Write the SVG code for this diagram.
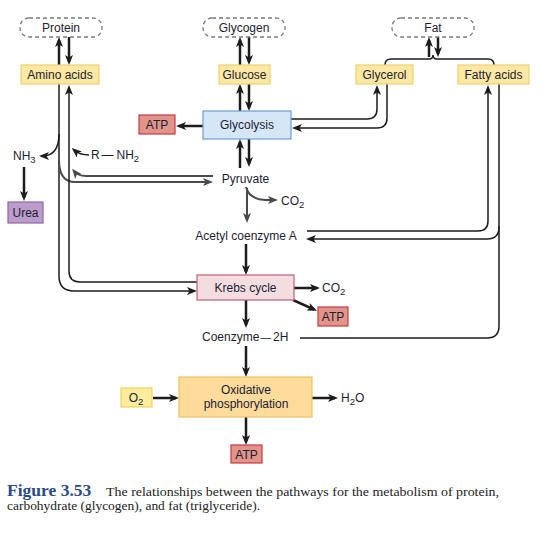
<svg xmlns="http://www.w3.org/2000/svg" width="551" height="538" viewBox="0 0 551 538">
<defs>
<marker id="ah" markerUnits="userSpaceOnUse" markerWidth="10" markerHeight="8" viewBox="0 0 10 8" refX="7" refY="4" orient="auto"><path d="M0,0 L10,4 L0,8 L2.5,4 Z" fill="#1c1c1c"/></marker>
<marker id="ag" markerUnits="userSpaceOnUse" markerWidth="10" markerHeight="8" viewBox="0 0 10 8" refX="7" refY="4" orient="auto"><path d="M0,0 L10,4 L0,8 L2.5,4 Z" fill="#4a4a4a"/></marker>
</defs>
<style>
text{font-family:"Liberation Sans",Arial,sans-serif;font-size:12px;fill:#1d1d33}
.sub{font-size:9.5px}
.c{text-anchor:middle}
.dash{fill:#fff;stroke:#7a7a7a;stroke-width:1.3;stroke-dasharray:4 3}
.yel{fill:#fbe8a2;stroke:#efd070;stroke-width:1.2}
.atp{fill:#e0948a;stroke:#c63a42;stroke-width:1.2}
.gly{fill:#d5e7f7;stroke:#6b9ed3;stroke-width:1.2}
.kreb{fill:#f3dde0;stroke:#c0607a;stroke-width:1.2}
.urea{fill:#bb9ccb;stroke:#8e67a6;stroke-width:1.2}
.ox{fill:#fcdb9b;stroke:#f0c15e;stroke-width:1.2}
.o2{fill:#fcec9e;stroke:#f0d45a;stroke-width:1.2}
.k{fill:none;stroke:#1c1c1c;stroke-width:2.5}
.t{fill:none;stroke:#1c1c1c;stroke-width:1.5}
.g{fill:none;stroke:#4a4a4a;stroke-width:2}
.k.a,.t.a{marker-end:url(#ah)}
.g.a{marker-end:url(#ag)}
text.fig{font-family:"Liberation Serif","Times New Roman",serif;font-size:17.5px;font-weight:bold;fill:#2c4b86}
text.capt{font-family:"Liberation Serif","Times New Roman",serif;font-size:12.5px;fill:#222}
</style>

<g id="connectors">
<path class="k a" d="M59,65 V40"/>
<path class="k a" d="M69,37 V62"/>
<path class="k a" d="M240,65 V40"/>
<path class="k a" d="M249,37 V62"/>
<path class="k a" d="M240,111 V87"/>
<path class="k a" d="M249,84 V108"/>
<path class="k a" d="M240,168 V142"/>
<path class="k a" d="M249,139 V164"/>
<path class="k a" d="M203,126 H179"/>
<path class="k a" d="M429,57 V40"/>
<path class="k a" d="M438,37 V54"/>
<path class="t" d="M385,65 Q385,59 391,59 H429 Q433,59 433,55 Q433,59 437,59 H488 Q494,59 494,65"/>
<path class="t a" d="M291,119 H367 Q377,119 377,109 V88"/>
<path class="t a" d="M387,84 V118 Q387,128 377,128 H295"/>
<path class="t a" d="M307,231 H478 Q488,231 488,221 V88"/>
<path class="t a" d="M499,84 V227 Q499,239 487,239 H309"/>
<path class="t" d="M300,338 H487 Q499,338 499,326 V226"/>
<path class="g a" d="M246,187 Q249,199 265,200 H275"/>
<path class="g a" d="M247,188 V220"/>
<path class="k a" d="M246,244 V272"/>
<path class="k a" d="M294,288 H317"/>
<path class="k a" d="M293,300 L314.3,309.6"/>
<path class="k a" d="M246,300 V325"/>
<path class="k a" d="M246,346 V374"/>
<path class="k a" d="M153,398 H176"/>
<path class="k a" d="M312,398 H335"/>
<path class="k a" d="M246,417 V442"/>
<path class="k a" d="M24,167 V198"/>
<path class="t a" d="M59,84 V276 Q59,291 74,291 H194"/>
<path class="t a" d="M59,134 Q59,156 42,156"/>
<path class="g a" d="M59,160 Q59,182 75,182 H210"/>
<path class="t a" d="M197,282 H80 Q69,282 69,271 V88"/>
<path class="g a" d="M213,176 H86 Q78,176 74,171"/>
<path class="t a" d="M89,155 Q80,155 74,150"/>
</g>

<g id="protein"><rect class="dash" x="20" y="18" width="82" height="19" rx="9"/><text class="c" x="61" y="32">Protein</text></g>
<g id="glycogen"><rect class="dash" x="203" y="18" width="82" height="19" rx="9"/><text class="c" x="244" y="32">Glycogen</text></g>
<g id="fat"><rect class="dash" x="392" y="18" width="82" height="19" rx="9"/><text class="c" x="433" y="32">Fat</text></g>
<g id="amino-acids"><rect class="yel" x="21" y="65" width="78" height="19"/><text class="c" x="60" y="79">Amino acids</text></g>
<g id="glucose"><rect class="yel" x="219" y="65" width="51" height="19"/><text class="c" x="244.5" y="79">Glucose</text></g>
<g id="glycerol"><rect class="yel" x="356" y="65" width="57" height="19"/><text class="c" x="384.5" y="79">Glycerol</text></g>
<g id="fatty-acids"><rect class="yel" x="458" y="65" width="71" height="19"/><text class="c" x="493.5" y="79">Fatty acids</text></g>
<g id="glycolysis"><rect class="gly" x="203" y="111" width="88" height="28"/><text class="c" x="247" y="129">Glycolysis</text></g>
<g id="atp1"><rect class="atp" x="139" y="115" width="36" height="19"/><text class="c" x="157" y="129">ATP</text></g>
<g id="nh3"><text x="13" y="160">NH<tspan class="sub" dy="3">3</tspan></text></g>
<g id="r-nh2"><text y="159"><tspan x="91">R</tspan><tspan x="101.5">—</tspan><tspan x="116.5">NH</tspan><tspan class="sub" dy="3">2</tspan></text></g>
<g id="urea"><rect class="urea" x="8" y="202" width="35" height="21"/><text class="c" x="25.5" y="217">Urea</text></g>
<g id="pyruvate"><text class="c" x="245.5" y="183">Pyruvate</text></g>
<g id="co2a"><text x="281" y="205">CO<tspan class="sub" dy="3">2</tspan></text></g>
<g id="acetyl-coa"><text class="c" x="246" y="240">Acetyl coenzyme A</text></g>
<g id="krebs"><rect class="kreb" x="197" y="275" width="97" height="25"/><text class="c" x="245.5" y="292">Krebs cycle</text></g>
<g id="co2b"><text x="322" y="292">CO<tspan class="sub" dy="3">2</tspan></text></g>
<g id="atp2"><rect class="atp" x="318" y="307" width="30" height="19"/><text class="c" x="333" y="321">ATP</text></g>
<g id="coenzyme-2h"><text y="341"><tspan x="202">Coenzyme</tspan><tspan x="260.5" style="font-size:10.5px">—</tspan><tspan x="273">2H</tspan></text></g>
<g id="oxphos"><rect class="ox" x="179" y="377" width="133" height="40"/><text class="c" x="246" y="394">Oxidative</text><text class="c" x="246" y="407.5">phosphorylation</text></g>
<g id="o2"><rect class="o2" x="121" y="388" width="31" height="19"/><text class="c" x="136" y="402">O<tspan class="sub" dy="3">2</tspan></text></g>
<g id="h2o"><text x="341" y="402">H<tspan class="sub" dy="3">2</tspan><tspan dy="-3">O</tspan></text></g>
<g id="atp3"><rect class="atp" x="231" y="445" width="31" height="18"/><text class="c" x="246.5" y="459">ATP</text></g>

<g id="caption">
<text class="fig" x="7" y="496">Figure 3.53</text>
<text class="capt" x="106" y="496" textLength="393" lengthAdjust="spacingAndGlyphs">The relationships between the pathways for the metabolism of protein,</text>
<text class="capt" x="7" y="510" textLength="253" lengthAdjust="spacingAndGlyphs">carbohydrate (glycogen), and fat (triglyceride).</text>
</g>
</svg>
